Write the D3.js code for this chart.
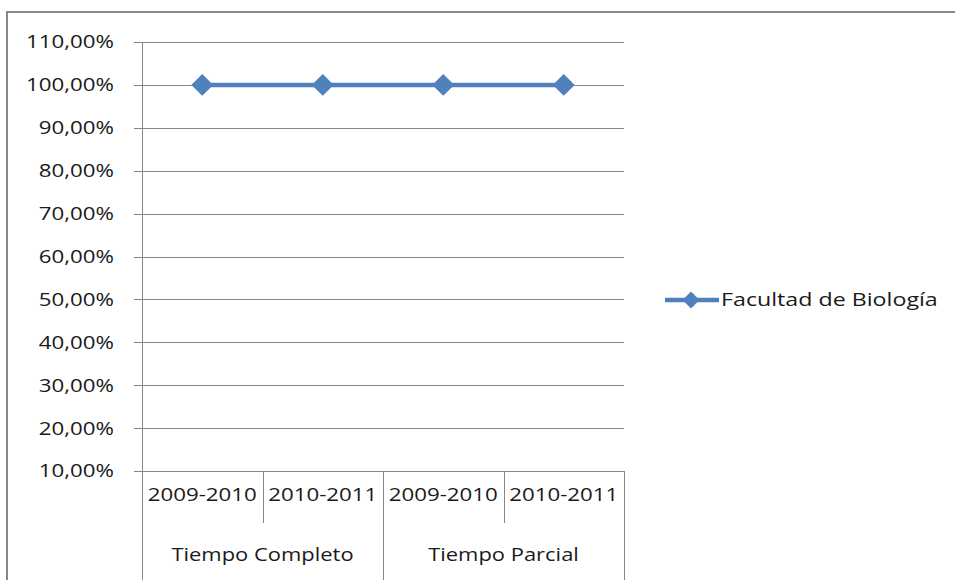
<!DOCTYPE html>
<html><head><meta charset="utf-8">
<script src="https://cdn.jsdelivr.net/npm/d3@7"></script>
<style>body{margin:0;background:#fff}svg{display:block}text{font-family:"Open Sans",sans-serif;fill:#1a1a1a}</style>
</head><body>
<script>
const years = ["2009-2010","2010-2011","2009-2010","2010-2011"];
const groups = ["Tiempo Completo","Tiempo Parcial"];
const values = [1.0,1.0,1.0,1.0];
const yTicks = [0.1,0.2,0.3,0.4,0.5,0.6,0.7,0.8,0.9,1.0,1.1];
const seriesName = "Facultad de Biología";

const W=955,H=580;
const FS=18;
const svg=d3.select("body").append("svg").attr("width",W).attr("height",H);
svg.append("rect").attr("x",7).attr("y",12).attr("width",W).attr("height",H).attr("fill","#fff").attr("stroke","#888").attr("stroke-width",2);

const x0=142,x1=624,yTop=42,yBot=471;
const x=d3.scaleBand().domain(d3.range(years.length)).range([x0,x1]);
const y=d3.scaleLinear().domain([0.1,1.1]).range([yBot,yTop]);
const fmt=v=>d3.format(".2f")(v*100).replace(".",",")+"%";

function label(g,data,fx,fy,anchor,txt,sx){
  const s=g.selectAll("g").data(data).join("g")
    .attr("transform",(d,i)=>`translate(${fx(d,i)},${fy(d,i)}) scale(${sx||1.24},1)`);
  s.append("text").attr("text-anchor",anchor).attr("dy","0.36em").attr("font-size",FS).text(txt);
}

// gridlines
svg.append("g").selectAll("line").data(yTicks).join("line")
 .attr("x1",x0-8).attr("x2",x1).attr("y1",d=>Math.round(y(d))+0.5).attr("y2",d=>Math.round(y(d))+0.5)
 .attr("stroke","#868686").attr("stroke-width",1);
// y axis line
svg.append("line").attr("x1",x0+0.5).attr("x2",x0+0.5).attr("y1",yTop).attr("y2",H).attr("stroke","#868686");
// y labels
label(svg.append("g"),yTicks,()=>114,d=>y(d),"end",fmt);

// category ticks
svg.append("g").selectAll("line").data(years).join("line")
 .attr("x1",(d,i)=>Math.round(x(i)+x.bandwidth())+0.5).attr("x2",(d,i)=>Math.round(x(i)+x.bandwidth())+0.5)
 .attr("y1",yBot).attr("y2",(d,i)=>i%2===1?H:yBot+52)
 .attr("stroke","#868686");
label(svg.append("g"),years,(d,i)=>x(i)+x.bandwidth()/2,()=>495,"middle",d=>d);
label(svg.append("g"),groups,(d,i)=>(x(i*2)+x(i*2+1)+x.bandwidth())/2,()=>555,"middle",d=>d,1.22);

// line
const color="#4F81BD";
const line=d3.line().x((d,i)=>x(i)+x.bandwidth()/2).y(d=>y(d));
svg.append("path").datum(values).attr("d",line).attr("fill","none").attr("stroke",color).attr("stroke-width",4.5);
svg.append("g").selectAll("path").data(values).join("path")
 .attr("transform",(d,i)=>`translate(${x(i)+x.bandwidth()/2},${y(d)}) rotate(45)`)
 .attr("d",d3.symbol().type(d3.symbolSquare).size(240)).attr("fill",color);

// legend
const ly=300;
svg.append("line").attr("x1",665).attr("x2",719).attr("y1",ly).attr("y2",ly).attr("stroke",color).attr("stroke-width",4.5);
svg.append("path").attr("transform",`translate(691,${ly}) rotate(45)`).attr("d",d3.symbol().type(d3.symbolSquare).size(144)).attr("fill",color);
label(svg.append("g"),[seriesName],()=>721,()=>ly,"start",d=>d,1.29);
</script>
</body></html>
